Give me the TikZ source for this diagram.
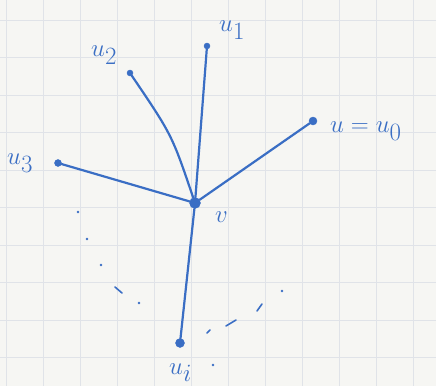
\documentclass[tikz,border=0pt]{standalone}
\usepackage{tikz}
\definecolor{ink}{RGB}{58,110,196}
\definecolor{paper}{RGB}{246,246,243}
\definecolor{gridc}{RGB}{224,227,232}
\tikzset{
  vtx/.style={circle,fill=ink,draw=ink,inner sep=0pt,minimum size=6pt},
  bigvtx/.style={circle,fill=ink,draw=ink,inner sep=0pt,minimum size=11pt},
  lbl/.style={text=ink,font=\fontsize{38}{38}\selectfont,inner sep=0pt},
  edge/.style={draw=ink,line width=2.2pt,line cap=round},
  dotmark/.style={draw=ink,line width=1.6pt,line cap=round}
}
\begin{document}
\begin{tikzpicture}[x=1pt,y=-1pt]
\useasboundingbox (0,0) rectangle (436,386);
\fill[paper] (0,0) rectangle (436,386);
\foreach \gx in {6,43,80,117,154,191,228,265,302,339,376,413}
  \draw[gridc,line width=1pt] (\gx,0) -- (\gx,386);
\foreach \gy in {20,57.5,95,132.5,170,207.5,245,282.5,320,357.5}
  \draw[gridc,line width=1pt] (0,\gy) -- (436,\gy);

\node[bigvtx] (v) at (195,203) {};
\node[vtx] (u1) at (207,46) {};
\node[vtx] (u2) at (130,73) {};
\node[vtx,minimum size=8pt] (u0) at (313,121) {};
\node[vtx,minimum size=7pt] (u3) at (58,163) {};
\node[vtx,minimum size=9pt] (ui) at (180,343) {};

\draw[edge] (v) -- (u1);
\draw[edge] (v) .. controls (172,135) .. (u2);
\draw[edge] (v) -- (u0);
\draw[edge] (v) -- (u3);
\draw[edge] (v) -- (ui);

\node[lbl,anchor=west] (l1) at (219,30) {$u_1$};
\node[lbl,anchor=west] (l2) at (91,55) {$u_2$};
\node[lbl,anchor=west] (l0) at (330,131) {$u=u_0$};
\node[lbl,anchor=west] (l3) at (7,163) {$u_3$};
\node[lbl,anchor=west] (lv) at (215,217) {$v$};
\node[lbl,anchor=base west] (li) at (169,374) {$u_i$};

\coordinate (p1) at (78,212);
\coordinate (p2) at (87,239);
\coordinate (p3) at (101,265);
\coordinate (p4) at (139,303);
\coordinate (q2) at (213,365);
\fill[ink] (p1) circle (1.3pt) (p2) circle (1.3pt) (p3) circle (1.3pt) (p4) circle (1.3pt) (q2) circle (1.3pt);
\coordinate (d1a) at (115,287);
\coordinate (d1b) at (122,293);
\draw[dotmark] (d1a) -- (d1b);
\coordinate (q1) at (282,291);
\fill[ink] (q1) circle (1.3pt);
\coordinate (d2a) at (257,311);
\coordinate (d2b) at (262,304);
\draw[dotmark] (d2a) -- (d2b);
\coordinate (d3a) at (226,326);
\coordinate (d3b) at (236,320);
\draw[dotmark] (d3a) -- (d3b);
\coordinate (d4a) at (207,333);
\coordinate (d4b) at (210,330);
\draw[dotmark] (d4a) -- (d4b);
\end{tikzpicture}
\end{document}
